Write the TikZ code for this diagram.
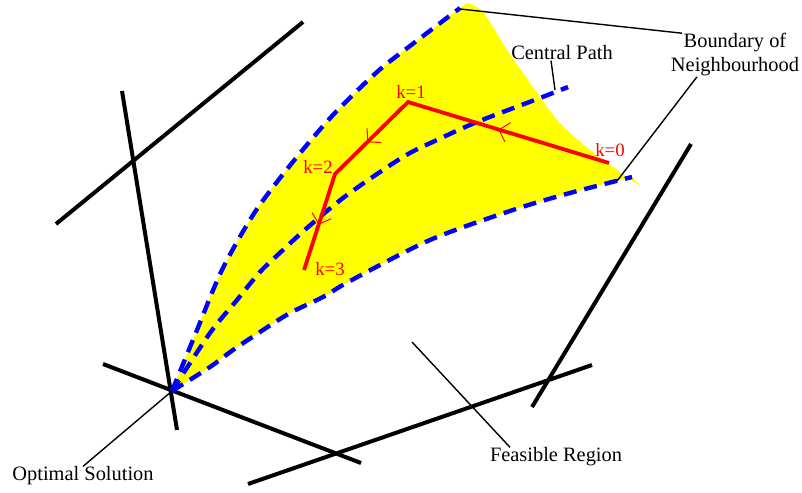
\documentclass[tikz,border=0pt]{standalone}
\usepackage{fontspec}
\setmainfont{Liberation Serif}
\usetikzlibrary{arrows.meta, calc, decorations.markings}
\definecolor{nbyellow}{RGB}{255,255,0}
\definecolor{nbblue}{RGB}{0,0,255}
\definecolor{nbred}{RGB}{255,0,0}
\tikzset{
  constraint/.style={line width=2pt},
  nbhd/.style={nbblue, line width=2.2pt, dash pattern=on 6.5pt off 4pt},
  leader/.style={line width=0.7pt},
  iterpath/.style={nbred, line width=1.9pt, line join=miter},
  lbl/.style={font=\fontsize{10.2}{12}\selectfont, inner sep=0pt, align=center},
  klbl/.style={font=\fontsize{9.4}{11}\selectfont, text=nbred, inner sep=0pt},
  midarrow/.style={postaction={decorate}, decoration={markings,
    mark=at position #1 with {\arrow[nbred, line width=0.5pt]{Straight Barb[length=4.5pt, width=10pt]}}}}
}

\begin{document}
\begin{tikzpicture}[x=0.5pt, y=-0.5pt]
\useasboundingbox (0,0) rectangle (802,492);
% neighbourhood of the central path
\fill[nbyellow] plot[smooth] coordinates {(172,391) (195,335) (222,270) (255,212) (292,163) (333,115) (377,72) (410,46) (460,8)}
  -- plot[smooth] coordinates {(467,3) (483,12) (507,50) (533,87) (553,115) (567,130) (590,150) (617,170) (640,186)}
  -- plot[smooth] coordinates {(632,177) (570,193) (513,210) (430,240) (350,281) (323,297) (290,313) (260,332) (233,350) (210,367) (172,391)}
  -- cycle;
% constraints
\draw[constraint] (56,224) -- (303,22);
\draw[constraint] (122,91) -- (177,430);
\draw[constraint] (103,364) -- (361,463);
\draw[constraint] (248,484) -- (592,365);
\draw[constraint] (532,407) -- (691,144);
\coordinate (opt pt) at (172,391);
\coordinate (top pt) at (460,9);
\coordinate (low pt) at (617,181);
\coordinate (cp end) at (555,90);
\coordinate (feas pt) at (412,342);
% boundaries and central path
\draw[nbhd] plot[smooth] coordinates {(172,391) (195,335) (222,270) (255,212) (292,163) (333,115) (377,72) (410,46) (460,8)};
\draw[nbhd] plot[smooth] coordinates {(172,391) (210,367) (233,350) (260,332) (290,313) (323,297) (350,281) (430,240) (513,210) (570,193) (632,177)};
\draw[nbhd] plot[smooth] coordinates {(172,391) (210,333) (237,300) (260,272) (283,250) (307,228) (347,195) (403,157) (437,140) (477,122) (540,98) (568,87)};
% iterates
\coordinate (k0) at (609,163);
\coordinate (k1) at (408,102);
\coordinate (k2) at (335,174);
\coordinate (k3) at (304,270);
\draw[iterpath] (k0) -- (k1) -- (k2) -- (k3);
\path[midarrow=0.55] (k0) -- (k1);
\path[midarrow=0.56] (k1) -- (k2);
\path[midarrow=0.53] (k2) -- (k3);
\node[klbl] (k0 lbl) at (610,150) {k=0};
\node[klbl] (k1 lbl) at (411,92) {k=1};
\node[klbl] (k2 lbl) at (318,167) {k=2};
\node[klbl] (k3 lbl) at (330,269) {k=3};
% labels
\node[lbl] (cp) at (562,53) {Central Path};
\draw[leader] ($(cp.south)+(-11,0)$) -- (cp end);
\node[lbl] (bnd) at (735,55) {Boundary of\\Neighbourhood};
\draw[leader] ($(bnd.north)+(-53,0)$) -- (top pt);
\draw[leader] ($(bnd.south)+(-38,0)$) -- (low pt);
\node[lbl] (opt) at (83,476) {Optimal Solution};
\draw[leader] (opt.north) -- (opt pt);
\node[lbl] (feas) at (556,457) {Feasible Region};
\draw[leader] ($(feas.north)+(-46,0)$) -- (feas pt);
\end{tikzpicture}
\end{document}
